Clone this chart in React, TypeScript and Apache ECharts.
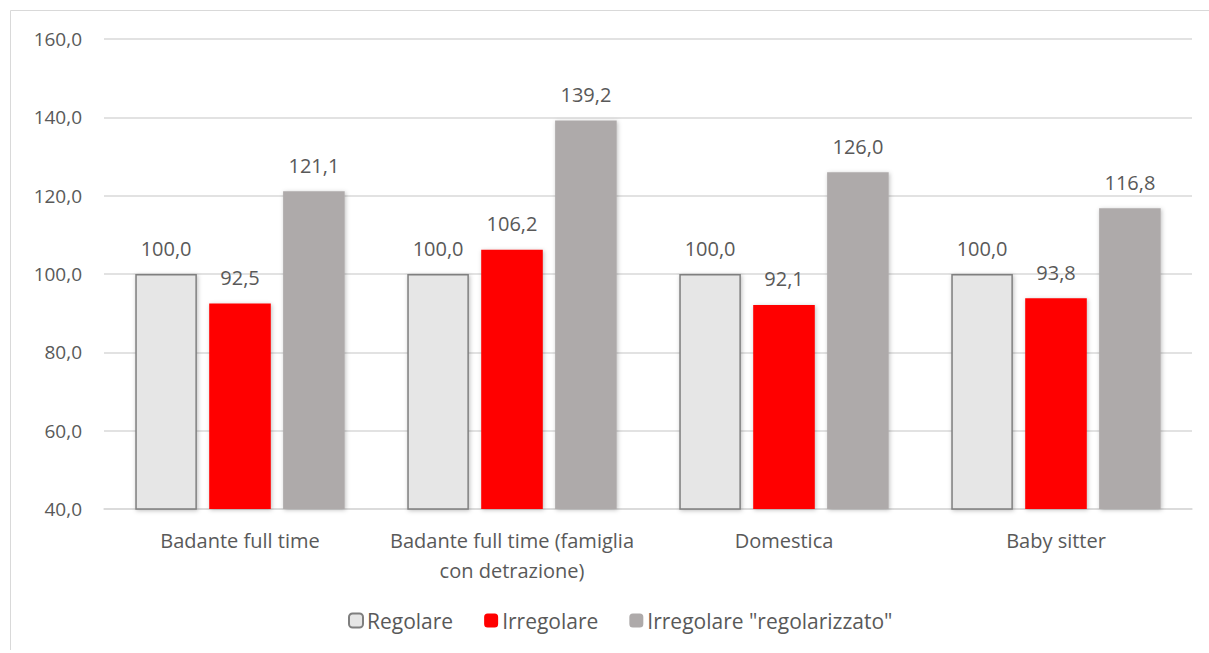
import React, { useEffect, useRef } from "react";
import * as echarts from "echarts";

const categories = [
  "Badante full time",
  "Badante full time (famiglia\ncon detrazione)",
  "Domestica",
  "Baby sitter",
];
const regolare = [100.0, 100.0, 100.0, 100.0];
const irregolare = [92.5, 106.2, 92.1, 93.8];
const regolarizzato = [121.1, 139.2, 126.0, 116.8];
const seriesNames = ["Regolare", "Irregolare", 'Irregolare "regolarizzato"'];

const FONT = "'Open Sans', 'Noto Sans', sans-serif";
const TEXT = "#595959";

export default function App() {
  const ref = useRef<HTMLDivElement>(null);
  useEffect(() => {
    document.body.style.margin = "0";
    const chart = echarts.init(ref.current!, null, { renderer: "svg" });
    const fmt = (v: number) => v.toFixed(1).replace(".", ",");
    const label = {
      show: true,
      position: "top" as const,
      distance: 16,
      color: TEXT,
      fontSize: 20,
      fontFamily: FONT,
      formatter: (p: any) => fmt(p.value),
    };
    const shadow = {
      shadowBlur: 4,
      shadowColor: "rgba(0,0,0,0.25)",
      shadowOffsetX: 1,
      shadowOffsetY: 1,
    };
    chart.setOption({
      animation: false,
      backgroundColor: "#ffffff",
      graphic: [
        {
          type: "polyline",
          shape: { points: [[10.5, 650], [10.5, 10.5], [1209, 10.5]] },
          style: { stroke: "#d9d9d9", lineWidth: 1, fill: "none" },
          silent: true,
        },
      ],
      grid: { left: 104, right: 17, top: 39, bottom: 144 },
      legend: {
        bottom: 17,
        left: 343,
        itemWidth: 14,
        itemHeight: 14,
        itemGap: 31,
        textStyle: { color: TEXT, fontSize: 21, fontFamily: FONT, padding: [0, 0, 0, -1] },
        data: seriesNames,
      },
      xAxis: {
        type: "category",
        data: categories,
        axisTick: { show: false },
        axisLine: { lineStyle: { color: "#d9d9d9", width: 1.5 } },
        axisLabel: {
          color: TEXT,
          fontSize: 20,
          fontFamily: FONT,
          margin: 16,
          lineHeight: 30,
          interval: 0,
        },
      },
      yAxis: {
        type: "value",
        min: 40,
        max: 160,
        interval: 20,
        axisLine: { show: false },
        axisTick: { show: false },
        splitLine: { lineStyle: { color: "#d9d9d9", width: 1.5 } },
        axisLabel: {
          color: TEXT,
          fontSize: 19,
          fontFamily: FONT,
          margin: 22,
          formatter: (v: number) => fmt(v),
        },
      },
      series: [
        {
          name: seriesNames[0],
          type: "bar",
          data: regolare,
          barGap: "20%",
          barCategoryGap: "23%",
          itemStyle: { color: "#e6e6e6", borderColor: "#7f7f7f", borderWidth: 1.5, ...shadow },
          label,
        },
        {
          name: seriesNames[1],
          type: "bar",
          data: irregolare,
          itemStyle: { color: "#ff0000", ...shadow },
          label,
        },
        {
          name: seriesNames[2],
          type: "bar",
          data: regolarizzato,
          itemStyle: { color: "#aeaaaa", ...shadow },
          label,
        },
      ],
    });
    return () => chart.dispose();
  }, []);
  return (
    <div
      ref={ref}
      style={{ position: "absolute", left: 0, top: 0, width: 1209, height: 653 }}
    />
  );
}
